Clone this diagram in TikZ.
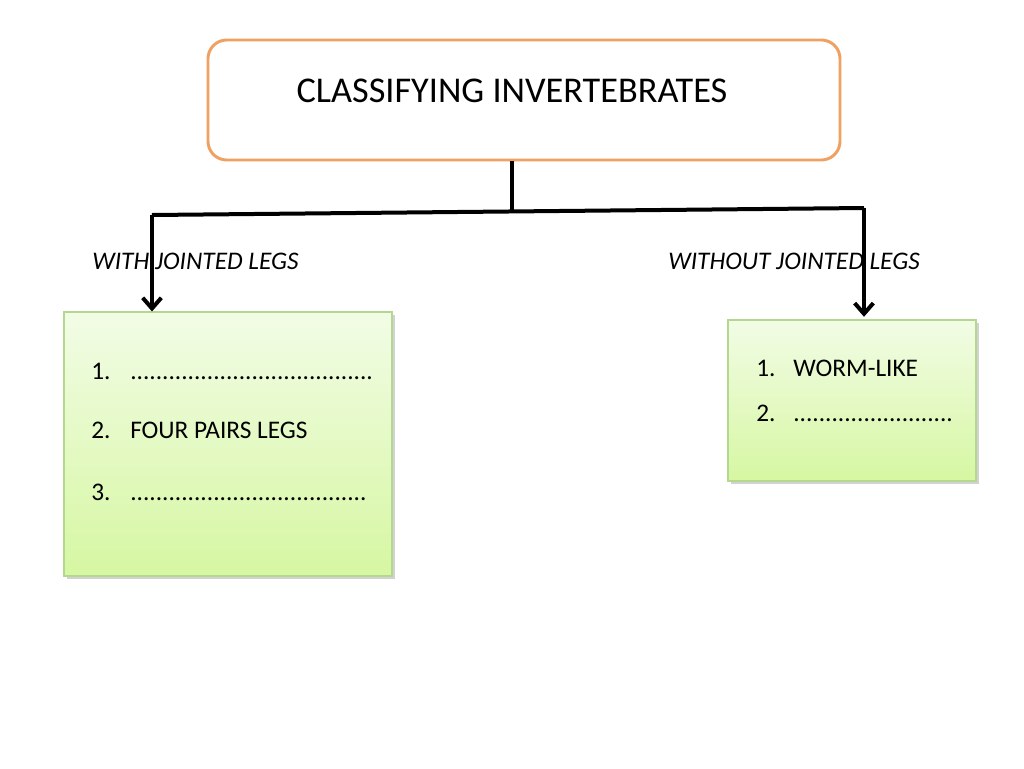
\documentclass[tikz,border=0pt]{standalone}
\usepackage{fontspec}
\setmainfont{Carlito}
\usetikzlibrary{arrows.meta,shadows}
\definecolor{orangeb}{HTML}{F0A060}
\definecolor{greenb}{HTML}{B4D890}
\definecolor{gtop}{HTML}{F2FCE6}
\definecolor{gbot}{HTML}{D6F7A2}
\tikzset{
  titlebox/.style={draw=orangeb, line width=2.2pt, rounded corners=14pt, fill=white},
  greenbox/.style={draw=greenb, line width=0.8pt, top color=gtop, bottom color=gbot,
     drop shadow={shadow xshift=2pt, shadow yshift=-2pt, fill=black!35, opacity=0.5}},
  lbl/.style={font=\fontsize{19}{22}\selectfont\itshape, anchor=base west, inner sep=0pt},
  item/.style={font=\fontsize{19}{22}\selectfont, anchor=base west, inner sep=0pt},
  conn/.style={line width=3pt, line join=miter, line cap=butt},
  tip/.style={-{Straight Barb[length=8pt,width=14pt,line width=3pt]}}
}
\begin{document}
\begin{tikzpicture}[x=0.75pt,y=-0.75pt]
\useasboundingbox (0,0) rectangle (1024,768);
% title box
\node[titlebox, minimum width=632*0.75pt, minimum height=120*0.75pt] (title) at (524,100) {};
\node[font=\fontsize{27.2}{32}\selectfont, inner sep=0pt, anchor=base] (ttext) at (512,102) {CLASSIFYING INVERTEBRATES};
% green boxes
\node[greenbox, minimum width=328*0.75pt, minimum height=264*0.75pt, inner sep=0pt] (lbox) at (228,444) {};
\node[greenbox, minimum width=248*0.75pt, minimum height=161*0.75pt, inner sep=0pt] (rbox) at (852,400.5) {};
% labels
\node[lbl] (llab) at (92,269) {WITH JOINTED LEGS};
\node[lbl] (rlab) at (668,269) {WITHOUT JOINTED LEGS};
% list items left
\node[item] (l1n) at (91,379) {1.};
\node[item] (l1t) at (130,379) {......................................};
\node[item] (l2n) at (91,438) {2.};
\node[item] (l2t) at (130,438) {FOUR PAIRS LEGS};
\node[item] (l3n) at (91,500) {3.};
\node[item] (l3t) at (130,500) {.....................................};
% list items right
\node[item] (r1n) at (756,376) {1.};
\node[item] (r1t) at (793,376) {WORM-LIKE};
\node[item] (r2n) at (756,421) {2.};
\node[item] (r2t) at (793,421) {.........................};
% connectors
\coordinate (jm) at (512,211.5);
\coordinate (jl) at (152,215);
\coordinate (jr) at (864,208);
\draw[conn] (title.south -| jm) -- (jm);
\draw[conn,tip] (jl) -- (lbox.north -| jl);
\draw[conn] (jl) -- (jr);
\draw[conn,tip] (jr) -- ([yshift=2pt]rbox.north -| jr);
\end{tikzpicture}
\end{document}
